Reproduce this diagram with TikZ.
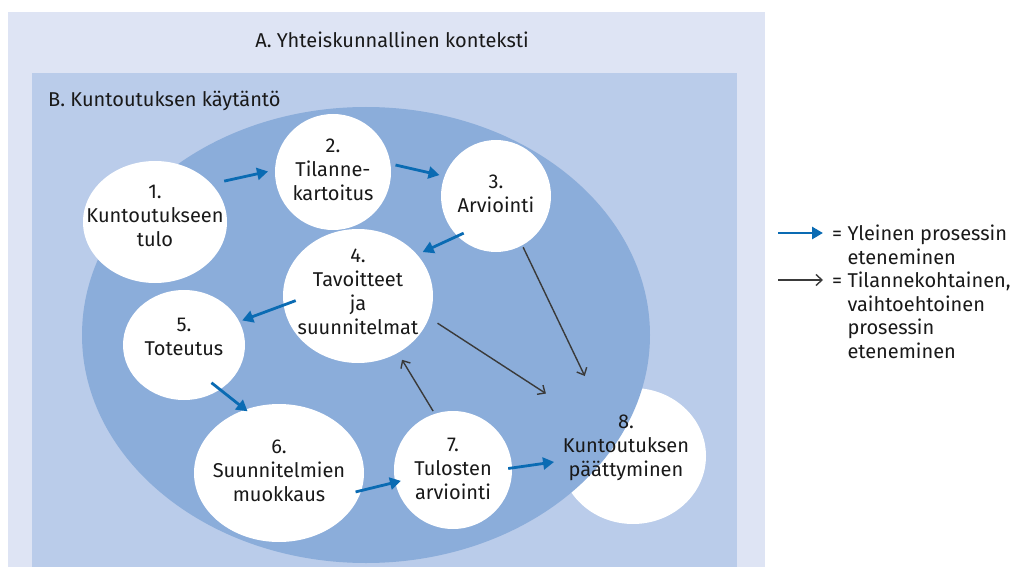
\documentclass[tikz,border=0pt]{standalone}
\usepackage{fontspec}
\setmainfont{Fira Sans}
\usetikzlibrary{arrows.meta,positioning,shapes.geometric}
\definecolor{color1}{HTML}{0A6BB3}
\definecolor{color2}{HTML}{3A3A3A}
\definecolor{color3}{HTML}{DEE4F4}
\definecolor{color4}{HTML}{BACCEA}
\definecolor{color5}{HTML}{8BADDA}

\begin{document}
\begin{tikzpicture}[x=1pt, y=-1pt, font=\fontsize{20}{24}\selectfont, text=black!90,
  stage/.style 2 args={ellipse, fill=white, inner sep=0pt, minimum width=#1, minimum height=#2},
  stagetext/.style={align=center, inner sep=0pt},
  legtext/.style={align=left, inner sep=0pt, font=\fontsize{20}{23.5}\selectfont},
  flowarrow/.style={color1, line width=2.8pt, -{Triangle[length=11pt,width=12pt]}},
  altarrow/.style={color2, line width=1.4pt, -{Straight Barb[length=6pt,width=11pt]}}]
  \useasboundingbox (0,0) rectangle (1015,567);
  \fill[color3] (8,12) rectangle (765,567);
  \fill[color4] (32,73) rectangle (737,567);
  \node[stage={146pt}{136pt}] (n8) at (633,456) {};
  \fill[color5] (366,335) ellipse [x radius=284, y radius=228];
  \node[stage={144pt}{122pt}] (n1) at (155,222) {};
  \node[stage={116pt}{116pt}] (n2) at (333,172) {};
  \node[stage={110pt}{112pt}] (n3) at (496,196) {};
  \node[stage={150pt}{134pt}] (n4) at (358,296) {};
  \node[stage={122pt}{110pt}] (n5) at (184,345) {};
  \node[stage={170pt}{138pt}] (n6) at (279,473) {};
  \node[stage={118pt}{118pt}] (n7) at (453,470) {};

  \node[inner sep=0pt] (ta) at (392,40) {A. Yhteiskunnallinen konteksti};
  \node[inner sep=0pt, anchor=west] (tb) at (48,101) {B. Kuntoutuksen käytäntö};

  \node[stagetext] (t1) at (155,216) {1.\\Kuntoutukseen\\tulo};
  \node[stagetext] (t2) at (333,170) {2.\\Tilanne-\\kartoitus};
  \node[stagetext] (t3) at (496,194) {3.\\Arviointi};
  \node[stagetext] (t4) at (358,292) {4.\\Tavoitteet\\ja\\suunnitelmat};
  \node[stagetext] (t5) at (184,337) {5.\\Toteutus};
  \node[stagetext] (t6) at (279,471) {6.\\Suunnitelmien\\muokkaus};
  \node[stagetext] (t7) at (453,469) {7.\\Tulosten\\arviointi};
  \node[stagetext] (t8) at (626,448) {8.\\Kuntoutuksen\\päättyminen};

  \draw[flowarrow, shorten <=13pt, shorten >=7pt] (n1.34) -- (n2.178);
  \draw[flowarrow, shorten <=5pt, shorten >=5pt] (n2.8) -- (n3.159);
  \draw[flowarrow, shorten <=-7pt, shorten >=6pt] (n3.226) -- (n4.35);
  \draw[flowarrow, shorten <=-13pt, shorten >=3pt] (n4.187) -- (n5.23);
  \draw[flowarrow, shorten <=-11pt, shorten >=-3pt] (n5.309) -- (n6.118);
  \draw[flowarrow, shorten <=-6pt, shorten >=-6pt] (n6.348) -- (n7.192);
  \draw[flowarrow, shorten <=-4pt, shorten >=6pt] (n7.2) -- (n8.184);
  \draw[altarrow, shorten <=2pt, shorten >=24pt] (n3.298) -- (n8.123);
  \draw[altarrow, shorten <=10pt, shorten >=36pt] (n4.343) -- (n8.143);
  \draw[altarrow, shorten <=3pt, shorten >=8pt] (n7.108) -- (n4.305);

  \coordinate (l1s) at (778,233);
  \coordinate (l1e) at (823,233);
  \coordinate (l2s) at (778,280);
  \coordinate (l2e) at (823,280);
  \draw[flowarrow] (l1s) -- (l1e);
  \draw[altarrow] (l2s) -- (l2e);
  \node[legtext, anchor=north west] (leg1) at (832,225) {= Yleinen prosessin\\\phantom{= }eteneminen};
  \node[legtext, anchor=north west] (leg2) at (832,272) {= Tilannekohtainen,\\\phantom{= }vaihtoehtoinen\\\phantom{= }prosessin\\\phantom{= }eteneminen};
\end{tikzpicture}
\end{document}
